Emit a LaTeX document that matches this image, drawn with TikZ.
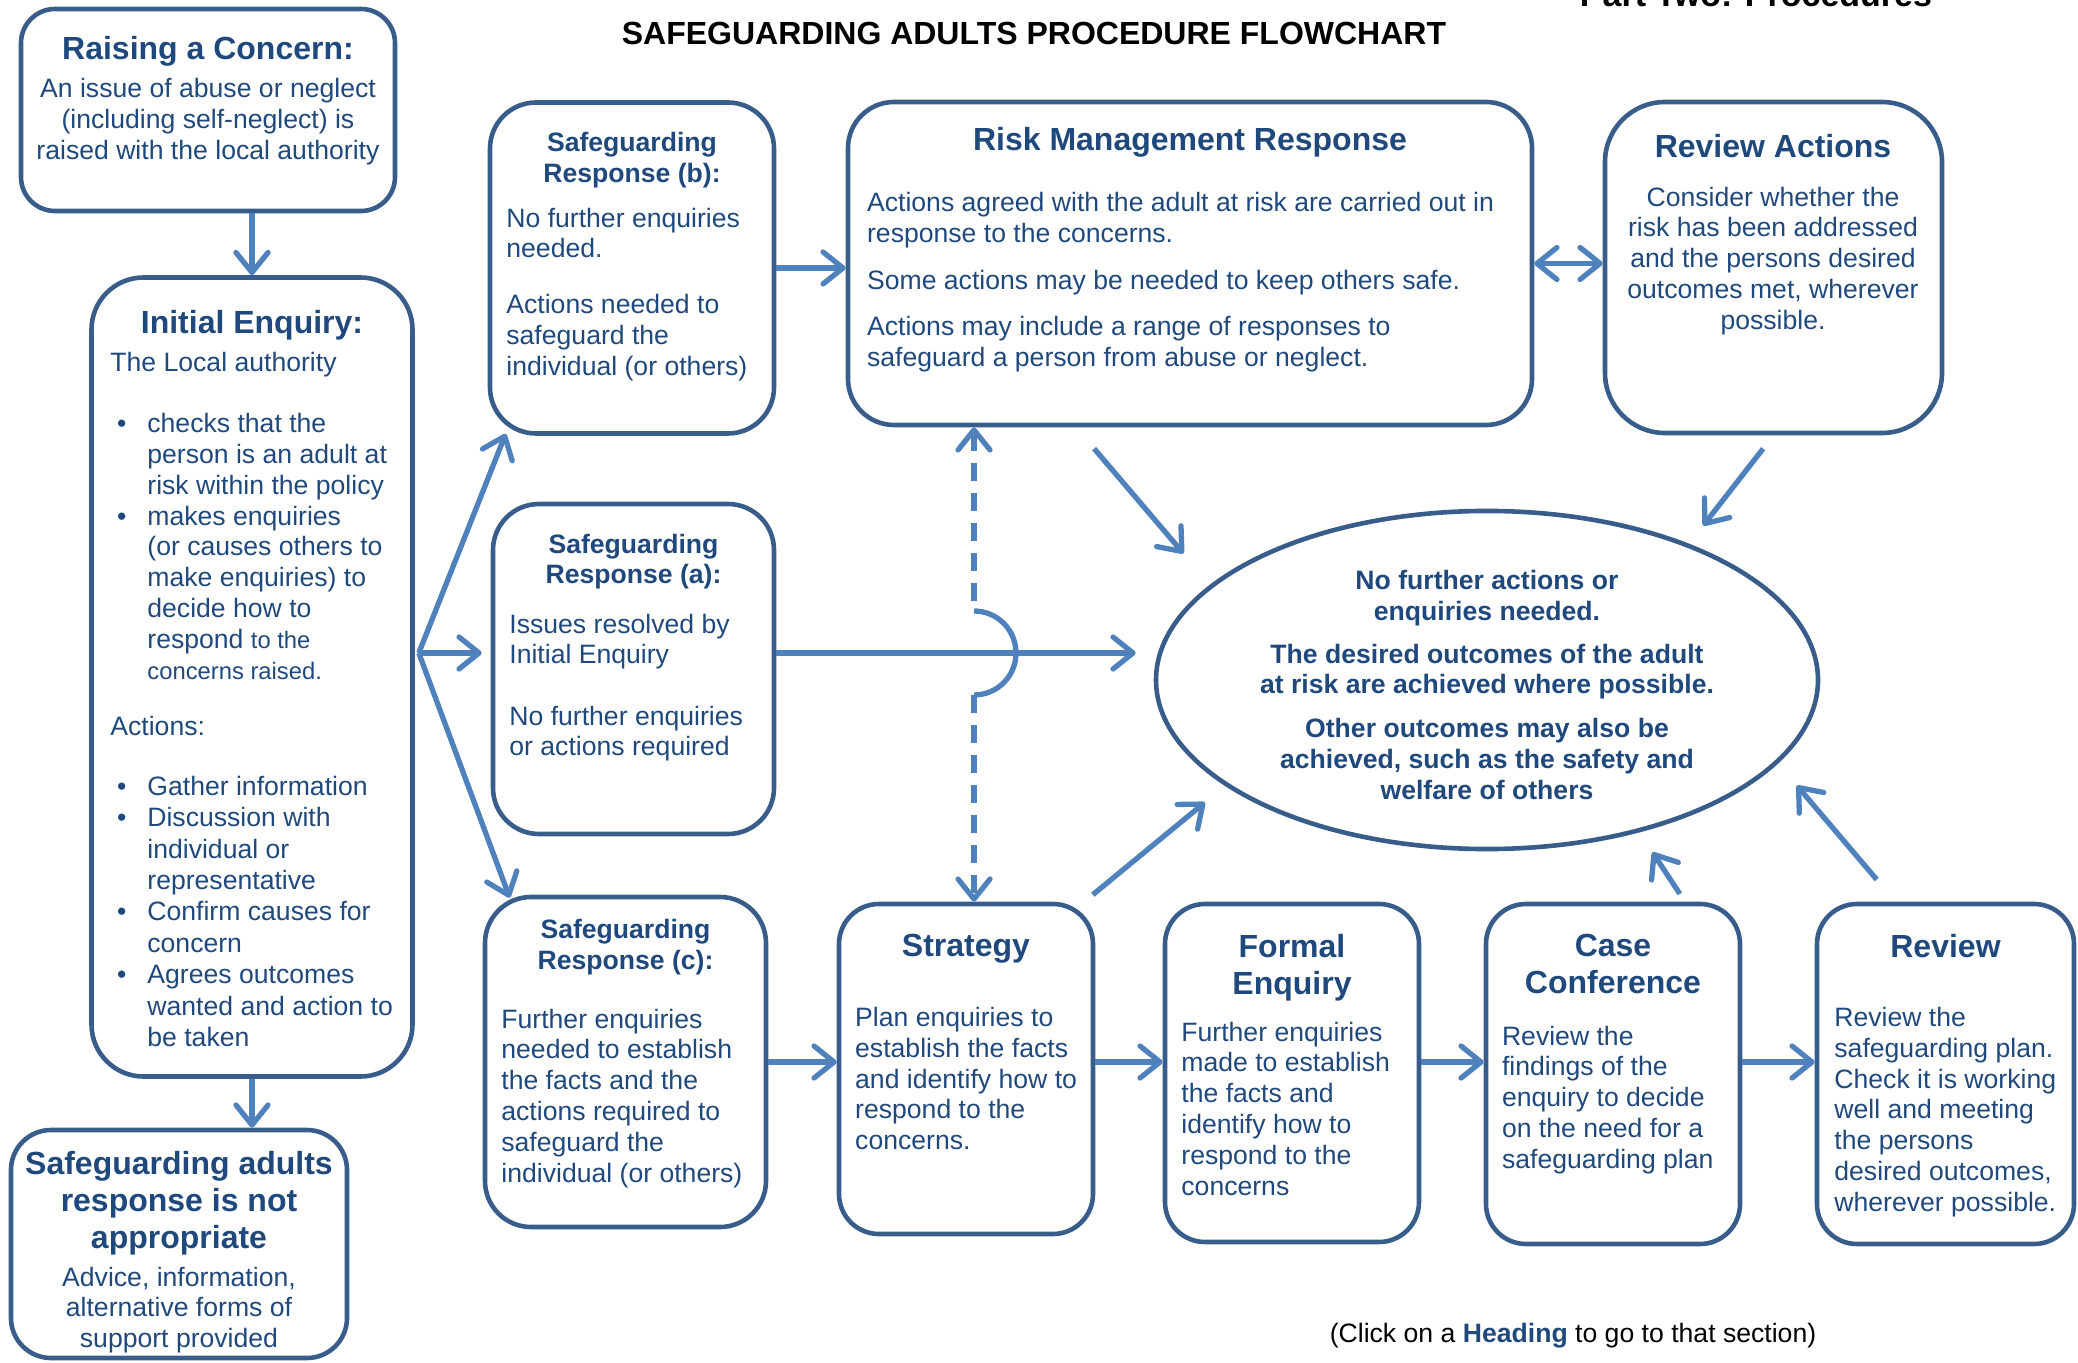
\documentclass[tikz,border=0pt]{standalone}
\usepackage{fontspec}
\setmainfont{Liberation Sans}
\usepackage{xcolor}
\usepackage{tikz}
\usetikzlibrary{arrows.meta,shapes.geometric,positioning}
\definecolor{navy}{HTML}{1F497D}
\definecolor{boxblue}{HTML}{385D8A}
\definecolor{arrowblue}{HTML}{4F81BD}
\newcommand{\bul}{\makebox[18.5pt][l]{\hspace{3.3pt}\textbullet}}
\newcommand{\bulind}{\hspace*{18.5pt}}

\begin{document}
\begin{tikzpicture}[x=0.5pt, y=-0.5pt,
  box/.style={draw=boxblue, line width=2.3pt, rounded corners=20pt},
  ttl/.style={inner sep=0, text=navy, font=\fontsize{16}{18.4}\selectfont\bfseries, align=center, anchor=north},
  sttl/.style={inner sep=0, text=navy, font=\fontsize{13.3}{15.4}\selectfont\bfseries, align=center, anchor=north},
  txt/.style={inner sep=0, yshift=-0.7pt, text=navy, font=\fontsize{13.3}{15.4}\selectfont, align=left, anchor=north west},
  arr/.style={draw=arrowblue, line width=2.65pt, ->},
  dashline/.style={dash pattern=on 9pt off 6pt},
  >={Straight Barb[length=10pt,width=16pt,round]}]
  \useasboundingbox (0,0) rectangle (2078,1363);

  % headings
  \node[inner sep=0, anchor=north, font=\fontsize{16}{18.4}\selectfont\bfseries] (head) at (1034,21.5) {SAFEGUARDING ADULTS PROCEDURE FLOWCHART};
  \node[inner sep=0, anchor=base, font=\fontsize{17}{19}\selectfont\bfseries] (part) at (1756,7) {Part Two: Procedures};

  % boxes
  \node[box, minimum width=187pt, minimum height=101pt, rounded corners=17pt] (raise) at (208,110) {};
  \node[box, minimum width=160.5pt, minimum height=399.5pt, rounded corners=26pt] (init) at (252,677) {};
  \node[box, minimum width=168pt, minimum height=114pt] (notapp) at (179,1244) {};
  \node[box, minimum width=142pt, minimum height=165.5pt, rounded corners=23pt] (respb) at (632,268) {};
  \node[box, minimum width=140.5pt, minimum height=165pt, rounded corners=23pt] (respa) at (633.5,669) {};
  \node[box, minimum width=140.5pt, minimum height=165pt, rounded corners=23pt] (respc) at (625.5,1062) {};
  \node[box, minimum width=342pt, minimum height=161.5pt, rounded corners=23pt] (risk) at (1190,263.5) {};
  \node[box, minimum width=168.5pt, minimum height=165.5pt, rounded corners=30pt] (revact) at (1773.5,267.5) {};
  \node[box, minimum width=127pt, minimum height=165pt] (strat) at (966,1069) {};
  \node[box, minimum width=127pt, minimum height=169pt] (formal) at (1292,1073) {};
  \node[box, minimum width=127pt, minimum height=170pt] (conf) at (1613,1074) {};
  \node[box, minimum width=128.5pt, minimum height=170pt] (review) at (1945.5,1074) {};
  \node[draw=boxblue, line width=2.3pt, ellipse, minimum width=331pt, minimum height=168pt, inner sep=0,
        text=navy, font=\fontsize{13.3}{15.4}\selectfont\bfseries, align=center] (goal) at (1487,680)
    {\rule{0pt}{14.5pt}No further actions or\\enquiries needed.\\[6pt]The desired outcomes of the adult\\at risk are achieved where possible.\\[6.5pt]Other outcomes may also be\\achieved, such as the safety and\\welfare of others};

  % box texts
  \node[ttl] (raiseT) at (208,36) {Raising a Concern:};
  \node[txt, anchor=north, align=center] (raiseB) at (208,76.5) {An issue of abuse or neglect\\(including self-neglect) is\\raised with the local authority};

  \node[ttl] (initT) at (252,310) {Initial Enquiry:};
  \node[txt] (initB) at (110,350) {The Local authority\\[15.4pt]
    \bul checks that the\\ \bulind person is an adult at\\ \bulind risk within the policy\\
    \bul makes enquiries\\ \bulind (or causes others to\\ \bulind make enquiries) to\\ \bulind decide how to\\
    \bulind respond {\fontsize{11.9}{15.4}\selectfont to the}\\ \bulind {\fontsize{11.9}{15.4}\selectfont concerns raised.}\\[13pt]
    Actions:\\[14.3pt]
    \bul Gather information\\[0.3pt] \bul Discussion with\\[0.3pt] \bulind individual or\\[0.3pt] \bulind representative\\[0.3pt]
    \bul Confirm causes for\\[0.3pt] \bulind concern\\[0.3pt] \bul Agrees outcomes\\[0.3pt] \bulind wanted and action to\\[0.3pt] \bulind be taken};

  \node[ttl] (notappT) at (179,1151) {Safeguarding adults\\response is not\\appropriate};
  \node[txt, anchor=north, align=center] (notappB) at (179,1265) {Advice, information,\\alternative forms of\\support provided};

  \node[sttl] (respbT) at (632,132) {Safeguarding\\Response (b):};
  \node[txt] (respbB) at (506,206) {No further enquiries\\needed.\\[12.6pt]Actions needed to\\safeguard the\\individual (or others)};

  \node[sttl] (respaT) at (633.5,533.5) {Safeguarding\\Response (a):};
  \node[txt] (respaB) at (509,612) {Issues resolved by\\Initial Enquiry\\[15.25pt]No further enquiries\\or actions required};

  \node[sttl] (respcT) at (625.5,919) {Safeguarding\\Response (c):};
  \node[txt] (respcB) at (501,1007) {Further enquiries\\needed to establish\\the facts and the\\actions required to\\safeguard the\\individual (or others)};

  \node[ttl] (riskT) at (1190,127) {Risk Management Response};
  \node[txt] (riskB) at (866.7,190.5) {Actions agreed with the adult at risk are carried out in\\response to the concerns.\\[8pt]Some actions may be needed to keep others safe.\\[8pt]Actions may include a range of responses to\\safeguard a person from abuse or neglect.};

  \node[ttl] (revactT) at (1773,134) {Review Actions};
  \node[txt, anchor=north, align=center] (revactB) at (1773,185) {Consider whether the\\risk has been addressed\\and the persons desired\\outcomes met, wherever\\possible.};

  \node[ttl] (stratT) at (966,934) {Strategy};
  \node[txt] (stratB) at (854.8,1005.5) {Plan enquiries to\\establish the facts\\and identify how to\\respond to the\\concerns.};

  \node[ttl] (formalT) at (1292,934) {Formal\\Enquiry};
  \node[txt] (formalB) at (1181,1020) {Further enquiries\\made to establish\\the facts and\\identify how to\\respond to the\\concerns};

  \node[ttl] (confT) at (1613,934) {Case\\Conference};
  \node[txt] (confB) at (1501.6,1024) {Review the\\findings of the\\enquiry to decide\\on the need for a\\safeguarding plan};

  \node[ttl] (reviewT) at (1945.5,934) {Review};
  \node[txt] (reviewB) at (1834,1005.5) {Review the\\safeguarding plan.\\Check it is working\\well and meeting\\the persons\\desired outcomes,\\wherever possible.};

  \node[inner sep=0, anchor=north, font=\fontsize{13.3}{15.4}\selectfont] (click) at (1573,1323)
    {(Click on a \textcolor{navy}{\bfseries Heading} to go to that section)};

  % connectors
  \coordinate (fan) at ([shift={(4,-24)}]init.east);
  \path (strat.north |- fan) ++(8,0) coordinate (jump);

  \draw[arr] (raise.south -| init.north) -- (init.north);
  \draw[arr] (init.south) -- (init.south |- notapp.north);
  \draw[arr] (fan) -- ([shift={(18,-2)}]respb.south west);
  \draw[arr, shorten >=4.5pt] (fan) -- (fan -| respa.west);
  \draw[arr] (fan) -- ([shift={(27,3)}]respc.north west);
  \draw[arr] (respb.east) -- (respb.east -| risk.west);
  \draw[arr, <->] (risk.east) -- (risk.east -| revact.west);
  \draw[arr, shorten >=9pt] (fan -| respa.east) -- (fan -| goal.west);
  \draw[arr, dashline, <-] (risk.south -| jump) -- ([yshift=21pt]jump);
  \draw[draw=arrowblue, line width=2.65pt] ([yshift=21pt]jump) arc (-90:90:42);
  \draw[arr, dashline] ([yshift=-21pt]jump) -- (jump |- strat.north);
  \draw[arr, shorten <=14pt, shorten >=20.5pt] ([xshift=-57pt]risk.south) -- (goal.161.7);
  \draw[arr, shorten <=8.5pt, shorten >=11.5pt] (revact.south) -- (goal.34);
  \draw[arr, shorten <=5.5pt, shorten >=13pt] ([xshift=-5.5pt]strat.north east) -- (goal.202.4);
  \draw[arr, shorten <=4.7pt, shorten >=11.9pt] ([xshift=36pt]conf.north) -- (goal.315);
  \draw[arr, shorten <=14.5pt, shorten >=14.5pt] ([xshift=-25pt]review.north) -- (goal.344.8);
  \draw[arr] (respc.east) -- (respc.east -| strat.west);
  \draw[arr] (strat.east |- respc.east) -- (formal.west |- respc.east);
  \draw[arr] (formal.east |- respc.east) -- (conf.west |- respc.east);
  \draw[arr] (conf.east |- respc.east) -- (review.west |- respc.east);
\end{tikzpicture}
\end{document}
